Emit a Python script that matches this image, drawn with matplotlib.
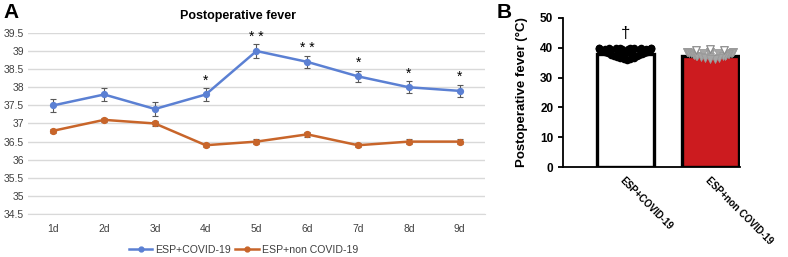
import numpy as np
import matplotlib; matplotlib.use("Agg"); import matplotlib.pyplot as plt
from matplotlib.lines import Line2D

days = ["1d", "2d", "3d", "4d", "5d", "6d", "7d", "8d", "9d"]
covid = [37.5, 37.8, 37.4, 37.8, 39.0, 38.7, 38.3, 38.0, 37.9]
covid_err = [0.18, 0.17, 0.18, 0.17, 0.18, 0.17, 0.16, 0.17, 0.17]
noncovid = [36.8, 37.1, 37.0, 36.4, 36.5, 36.7, 36.4, 36.5, 36.5]
noncovid_err = [0.06, 0.06, 0.06, 0.05, 0.06, 0.06, 0.06, 0.06, 0.06]
stars = ["", "", "", "*", "**", "**", "*", "*", "*"]

groups = ["ESP+COVID-19", "ESP+non COVID-19"]
bar_means = [37.8, 37.1]
# individual patient values
pts_covid = [39.9, 39.9, 39.8, 39.9, 39.8, 39.9, 39.8, 39.9, 39.7, 39.8, 39.9,
             39.6, 39.7, 39.6, 39.7, 39.5, 39.6, 39.5, 39.6, 39.5,
             39.3, 39.4, 39.3, 39.4, 39.2, 39.3, 39.2,
             39.0, 39.1, 38.9, 39.0, 38.9, 38.8,
             38.6, 38.7, 38.5, 38.6, 38.4,
             38.2, 38.3, 38.1, 38.0,
             37.8, 37.7, 37.5,
             37.3, 37.1, 36.9,
             36.7, 36.5, 36.3, 36.1, 35.9]
pts_noncovid = [39.0, 39.1, 39.0,
                38.7, 38.6, 38.7, 38.5, 38.6, 38.7, 38.6,
                38.3, 38.2, 38.3, 38.1, 38.2, 38.3,
                37.9, 37.8, 37.9, 37.7, 37.8,
                37.5, 37.4, 37.3, 37.4,
                37.1, 37.0, 36.9,
                36.7, 36.5, 36.3, 36.1]

BLUE = "#5B80D3"; ORANGE = "#C8652A"; GRID = "#D9D9D9"

plt.rcParams["font.family"] = ["Liberation Sans", "DejaVu Sans"]
fig = plt.figure(figsize=(7.88, 2.57), dpi=100)

# ---- panel A
ax = fig.add_axes([0.0355, 0.167, 0.58, 0.705])
x = np.arange(len(days))
ax.errorbar(x, covid, yerr=covid_err, color=BLUE, lw=1.8, marker="o", ms=4.2,
            ecolor="#595959", elinewidth=0.8, capsize=2, capthick=0.8, zorder=3)
ax.errorbar(x, noncovid, yerr=noncovid_err, color=ORANGE, lw=1.8, marker="o", ms=4.2,
            ecolor="#595959", elinewidth=0.8, capsize=2, capthick=0.8, zorder=3)
for xi, yi, e, s in zip(x, covid, covid_err, stars):
    if s:
        ax.text(xi, yi + e + 0.02, " ".join(s), ha="center", va="bottom", fontsize=10)
ax.set_xlim(-0.5, len(days) - 0.5)
ax.set_ylim(34.5, 39.5)
yt = np.arange(34.5, 39.51, 0.5)
ax.set_yticks(yt)
ax.set_yticklabels([f"{v:g}" for v in yt])
ax.set_xticks(x); ax.set_xticklabels(days)
ax.yaxis.grid(True, color=GRID, lw=1); ax.set_axisbelow(True)
for sp in ["top", "right", "left"]:
    ax.spines[sp].set_visible(False)
ax.spines["bottom"].set_color(GRID)
ax.tick_params(length=0, labelsize=7.5, colors="#404040", pad=7)
ax.tick_params(axis="y", pad=3)
fig.text(0.302, 0.937, "Postoperative fever", fontsize=9, fontweight="bold",
         ha="center", va="center")
handles = [Line2D([], [], color=BLUE, marker="o", ms=3.5, lw=1.8),
           Line2D([], [], color=ORANGE, marker="o", ms=3.5, lw=1.8)]
fig.legend(handles, groups, loc="center", bbox_to_anchor=(0.309, 0.027), ncol=2,
           frameon=False, fontsize=7.6, handlelength=2.2, handletextpad=0.3,
           columnspacing=0.4, labelcolor="#404040")
fig.text(0.004, 0.95, "A", fontsize=15, fontweight="bold", va="center")

# ---- panel B
bx = fig.add_axes([0.7145, 0.35, 0.2245, 0.58])
bx.bar([0, 1], bar_means, width=0.67, color=["white", "#CC1B1F"], edgecolor="black",
       lw=2.4, zorder=2)

def swarm(vals, half, vmin, vmax):
    # lower values sit in the middle, higher values fan out to the bar edges
    vals = np.asarray(vals, float)
    off = np.zeros(len(vals))
    rows = {}
    for i, v in enumerate(vals):
        rows.setdefault(round(v * 5) / 5, []).append(i)
    for v, idx in rows.items():
        w = half * min(1, ((v - vmin) / (vmax - vmin)) ** 0.8)
        off[idx] = np.linspace(-w, w, len(idx)) if len(idx) > 1 else 0
    return off

oc = swarm(pts_covid, 0.31, 35.9, 39.6)
bx.scatter(0 + oc, pts_covid, s=30, color="black", zorder=3, lw=0)
on = swarm(pts_noncovid, 0.27, 36.0, 38.5)
pn = np.array(pts_noncovid)
hollow = pn >= 39.0
bx.scatter(1 + on[~hollow], pn[~hollow], s=32, marker="v", facecolor="#A6A6A6",
           edgecolor="#9A9A9A", lw=0.6, zorder=3)
bx.scatter(1 + on[hollow] * 0.6, pn[hollow] + 0.4, s=30, marker="v",
           facecolor="white", edgecolor="#8C8C8C", lw=0.9, zorder=4)
bx.text(0, 42.3, "†", ha="center", va="bottom", fontsize=12)
bx.set_xlim(-0.73, 1.35)
bx.set_ylim(0, 50)
bx.set_yticks(range(0, 51, 10))
bx.set_xticks([0, 1])
bx.set_xticklabels(groups, rotation=-45, ha="left", rotation_mode="anchor",
                   fontsize=7, fontweight="bold")
for t in bx.get_yticklabels():
    t.set_fontweight("bold")
bx.tick_params(axis="y", labelsize=8.5, width=1.3, length=3.5)
bx.tick_params(axis="x", length=0, pad=6)
for sp in ["top", "right"]:
    bx.spines[sp].set_visible(False)
for sp in ["left", "bottom"]:
    bx.spines[sp].set_linewidth(1.3)
bx.set_ylabel("Postoperative fever (°C)", fontsize=9.5, fontweight="bold", labelpad=9)
fig.text(0.63, 0.95, "B", fontsize=15, fontweight="bold", va="center")

fig.savefig("out.png", dpi=100)
